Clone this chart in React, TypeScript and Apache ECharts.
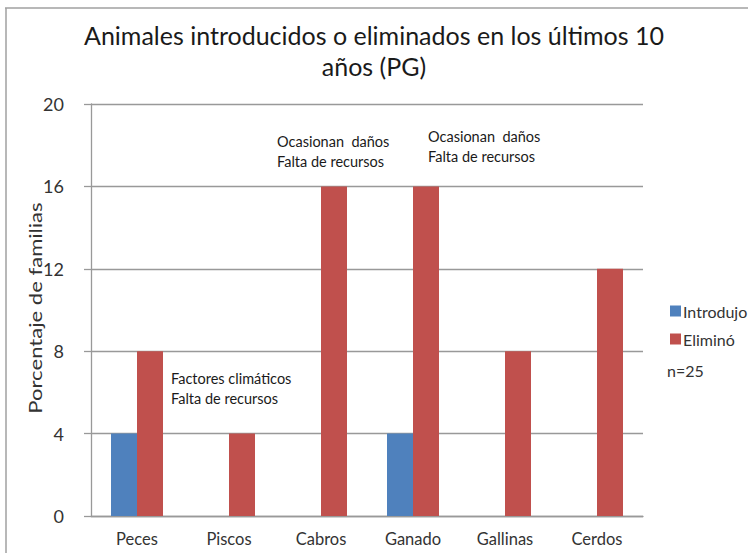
import React, { useEffect, useRef } from "react";
import * as echarts from "echarts";

const titleText = "Animales introducidos o eliminados en los últimos 10\naños (PG)";
const categories = ["Peces", "Piscos", "Cabros", "Ganado", "Gallinas", "Cerdos"];
const introdujo = [4, 0, 0, 4, 0, 0];
const elimino = [8, 4, 16, 16, 8, 12];
const seriesNames = ["Introdujo", "Eliminó"];
const yAxisTitle = "Porcentaje de familias";
const sampleNote = "n=25";
const notes = [
  { text: "Ocasionan  daños\nFalta de recursos", x: 277, y: 131 },
  { text: "Ocasionan  daños\nFalta de recursos", x: 428, y: 126 },
  { text: "Factores climáticos\nFalta de recursos", x: 171, y: 368 },
];

const FONT = "Lato, 'Noto Sans', sans-serif";

export default function App() {
  const ref = useRef<HTMLDivElement>(null);
  useEffect(() => {
    if (!ref.current) return;
    const chart = echarts.init(ref.current, undefined, { renderer: "svg" });
    chart.setOption({
      animation: false,
      backgroundColor: "#ffffff",
      textStyle: { fontFamily: FONT },
      title: {
        text: titleText,
        left: 369,
        top: 14,
        textAlign: "center",
        textStyle: {
          fontFamily: FONT,
          fontSize: 25,
          fontWeight: "normal",
          color: "#1a1a1a",
          lineHeight: 31,
        },
      },
      legend: {
        orient: "vertical",
        left: 665,
        top: 298,
        itemWidth: 11,
        itemHeight: 11,
        itemGap: 12,
        icon: "rect",
        data: seriesNames,
        textStyle: { fontFamily: FONT, fontSize: 16, color: "#333", padding: [0, 0, 0, -3] },
      },
      grid: { left: 91, right: 105, top: 104, bottom: 37, containLabel: false },
      xAxis: {
        type: "category",
        data: categories,
        axisLine: { show: true, lineStyle: { color: "#999", width: 1.3 } },
        axisTick: { show: false },
        axisLabel: { fontFamily: FONT, fontSize: 16.5, color: "#333", margin: 14 },
      },
      yAxis: {
        type: "value",
        min: 0,
        max: 20,
        interval: 4,
        axisLine: { show: true, lineStyle: { color: "#999", width: 1.3 } },
        axisTick: { show: true, length: 7, lineStyle: { color: "#999", width: 1.3 } },
        axisLabel: { fontFamily: FONT, fontSize: 18, color: "#333", margin: 27 },
        splitLine: { show: true, lineStyle: { color: "#999", width: 1.3 } },
      },
      series: [
        {
          name: seriesNames[0],
          type: "bar",
          data: introdujo,
          barWidth: 26,
          barGap: "0%",
          itemStyle: { color: "#4F81BD" },
        },
        {
          name: seriesNames[1],
          type: "bar",
          data: elimino,
          barWidth: 26,
          barGap: "0%",
          itemStyle: { color: "#C0504D" },
        },
      ],
      graphic: [
        {
          type: "line",
          shape: { x1: 5, y1: 8, x2: 748, y2: 8 },
          style: { stroke: "#a0a0a0", lineWidth: 1.5 },
        },
        {
          type: "line",
          shape: { x1: 6, y1: 8, x2: 6, y2: 553 },
          style: { stroke: "#a0a0a0", lineWidth: 1.5 },
        },
        {
          type: "text",
          x: 36,
          y: 308,
          rotation: Math.PI / 2,
          scaleX: 1.3,
          style: {
            text: yAxisTitle,
            fontFamily: FONT,
            fontSize: 17,
            fill: "#333",
            align: "center",
            verticalAlign: "middle",
          },
        },
        {
          type: "text",
          x: 667,
          y: 370,
          style: {
            text: sampleNote,
            fontFamily: FONT,
            fontSize: 16,
            fill: "#333",
            align: "left",
            verticalAlign: "middle",
          },
        },
        ...notes.map((n) => ({
          type: "text",
          x: n.x,
          y: n.y,
          style: {
            text: n.text,
            fontFamily: FONT,
            fontSize: 14.5,
            lineHeight: 20,
            fill: "#1a1a1a",
            align: "left",
            verticalAlign: "top",
          },
        })),
      ],
    });
    return () => chart.dispose();
  }, []);
  return (
    <div
      ref={ref}
      style={{ position: "fixed", left: 0, top: 0, width: 748, height: 553 }}
    />
  );
}
